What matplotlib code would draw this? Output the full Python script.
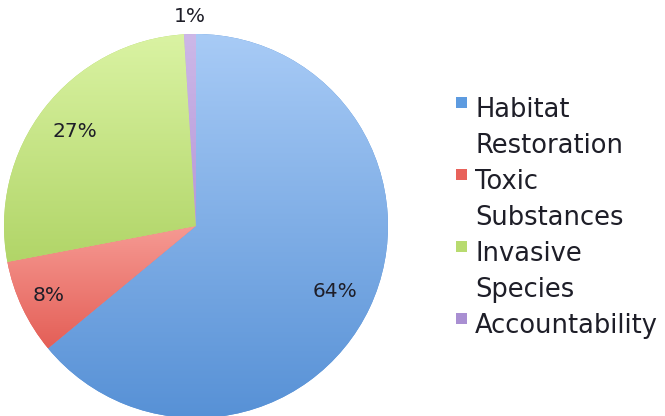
import matplotlib
matplotlib.use('Agg')
import matplotlib.pyplot as plt
import numpy as np
from matplotlib.colors import to_rgb
from matplotlib.patches import Rectangle

categories = ['Habitat Restoration', 'Toxic Substances', 'Invasive Species', 'Accountability']
legend_lines = [['Habitat', 'Restoration'], ['Toxic', 'Substances'], ['Invasive', 'Species'], ['Accountability']]
values = [64, 8, 27, 1]
top_colors = ['#a8cbf6', '#f69a93', '#daf3a3', '#cdb8e8']
bottom_colors = ['#5791d6', '#e45f57', '#b1d568', '#b698d8']
marker_colors = ['#5d9be0', '#e8625b', '#b8db6f', '#a98fd2']
label_dist = [0.80, 0.85, 0.80, 1.09]

plt.rcParams['font.family'] = ['DejaVu Sans']

W, H = 665, 416
fig = plt.figure(figsize=(W / 100, H / 100), dpi=100)
ax = fig.add_axes([0, 0, 1, 1])
cx, cy, r = 196, 190, 192

wedges, _ = ax.pie(values, colors=bottom_colors, startangle=90, counterclock=False,
                   center=(cx, cy), radius=r, wedgeprops=dict(linewidth=0))

for w, v, tc, bc, d in zip(wedges, values, top_colors, bottom_colors, label_dist):
    th = np.linspace(np.radians(w.theta1), np.radians(w.theta2), 200)
    ys = np.concatenate([[cy], cy + r * np.sin(th)])
    ymin, ymax = ys.min(), ys.max()
    t = np.linspace(0, 1, 256)[:, None]
    grad = (1 - t) * np.array(to_rgb(tc)) + t * np.array(to_rgb(bc))
    grad = grad[:, None, :]
    im = ax.imshow(grad, extent=[cx - r, cx + r, ymin, ymax], origin='upper',
                   aspect='auto', interpolation='bilinear', zorder=2)
    im.set_clip_path(w)
    mid = np.radians((w.theta1 + w.theta2) / 2)
    ax.text(cx + d * r * np.cos(mid), cy + d * r * np.sin(mid), f'{v}%',
            ha='center', va='center', fontsize=14.5, color='#1e1e28', zorder=5)

ax.set_xlim(0, W)
ax.set_ylim(0, H)
ax.set_aspect('auto')
ax.axis('off')

# legend
baseline0 = 117
step = 36
line = 0
for lines, mc in zip(legend_lines, marker_colors):
    yb = baseline0 + line * step
    fig.patches.append(Rectangle((456 / W, 1 - (yb - 9) / H), 11 / W, 11 / H,
                                 transform=fig.transFigure, facecolor=mc, edgecolor='none'))
    for ln in lines:
        yb = baseline0 + line * step
        fig.text(475 / W, 1 - yb / H, ln, ha='left', va='baseline', fontsize=18.5, color='#1e1e28')
        line += 1

fig.savefig('out.png', dpi=100, facecolor='white')
